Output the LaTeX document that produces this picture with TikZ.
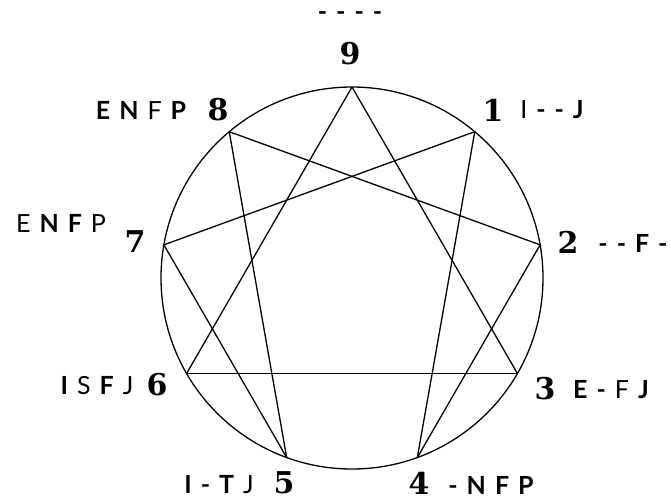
\documentclass[tikz,border=0pt]{standalone}
\usepackage{fontspec}
\setmainfont{Lato}
\newfontfamily\digitfont{DejaVu Serif}
\usetikzlibrary{calc}

\newcommand{\gp}{\hspace{9pt}}
\newcommand{\bd}[1]{\textbf{#1}}

\tikzset{
    lbl/.style={font=\fontsize{25}{25}\selectfont, inner sep=0pt},
    num/.style={font=\digitfont\bfseries\fontsize{30}{30}\selectfont, inner sep=0pt},
    edge/.style={line width=1.3pt},
}

\begin{document}
\begin{tikzpicture}[x=1pt, y=-1pt]
    \useasboundingbox (0,0) rectangle (671,501);

    % ── CIRCLE AND POINTS ─────────────────────────────────────────────
    \coordinate (c) at (352, 278);
    \draw[edge] (c) circle[radius=191];
    \foreach \k in {0,...,8}
        \coordinate (p\k) at ($(c)+({40*\k-90}:191)$);

    % Triangle 9-3-6 and hexad 1-4-2-8-5-7
    \foreach \a/\b in {0/3, 3/6, 6/0, 1/4, 4/2, 2/8, 8/5, 5/7, 7/1}
        \draw[edge] (p\a) -- (p\b);

    % ── NUMBERS ───────────────────────────────────────────────────────
    \node[num] (d9) at (350, 54) {9};
    \node[num] (d1) at (493, 110) {1};
    \node[num] (d2) at (568, 242) {2};
    \node[num] (d3) at (545, 389) {3};
    \node[num] (d4) at (419, 483) {4};
    \node[num] (d5) at (284, 483) {5};
    \node[num] (d6) at (157, 385) {6};
    \node[num] (d7) at (135, 242) {7};
    \node[num] (d8) at (218, 110) {8};

    % ── TYPE LETTERS ──────────────────────────────────────────────────
    \node[lbl] (t9) at (350, 16) {\bd{-}\gp\bd{-}\gp\bd{-}\gp\bd{-}};
    \node[lbl] (t1) at (552, 110) {I\gp\bd{-}\gp\bd{-}\gp\bd{J}};
    \node[lbl] (t2) at (633, 243) {\bd{-}\gp\bd{-}\gp\bd{F}\gp\bd{-}};
    \node[lbl] (t3) at (611, 390) {\bd{E}\gp\bd{-}\gp F\gp\bd{J}};
    \node[lbl] (t4) at (491, 485) {\bd{-}\gp\bd{N}\gp\bd{F}\gp\bd{P}};
    \node[lbl] (t5) at (219, 485) {\bd{I}\gp\bd{-}\gp\bd{T}\gp J};
    \node[lbl] (t6) at (97, 386) {\bd{I}\gp S\gp\bd{F}\gp J};
    \node[lbl] (t7) at (61, 223) {E\gp\bd{N}\gp\bd{F}\gp P};
    \node[lbl] (t8) at (141, 110) {\bd{E}\gp\bd{N}\gp F\gp\bd{P}};
\end{tikzpicture}
\end{document}
